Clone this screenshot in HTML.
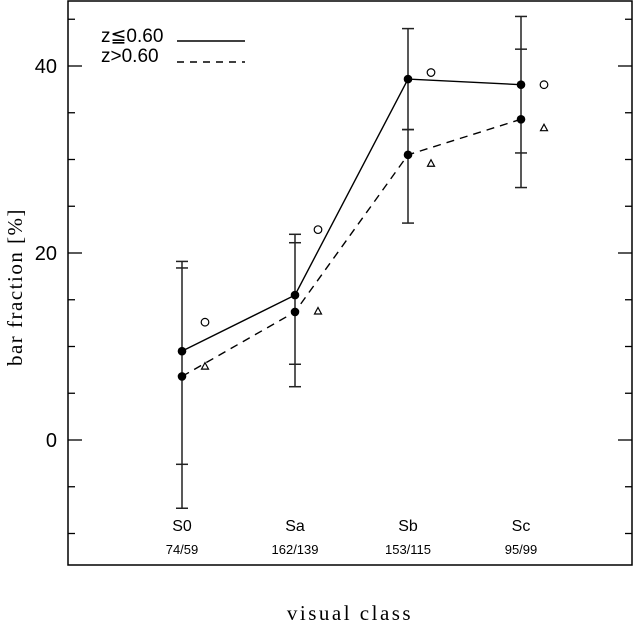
<!DOCTYPE html>
<html><head><meta charset="utf-8"><style>
html,body{margin:0;padding:0;background:#fff}
svg{display:block;font-family:"Liberation Serif","DejaVu Serif",serif}
</style></head><body>
<svg id="c" width="634" height="623" viewBox="0 0 634 623"></svg>
<script>
const classes=["S0","Sa","Sb","Sc"];
const counts=["74/59","162/139","153/115","95/99"];
const lowZ=[9.5,15.5,38.6,38.0];
const highZ=[6.8,13.7,30.5,34.3];
const errA_hi=[19.1,22.0,44.0,45.3];
const errA_lo=[-7.3,5.7,23.2,30.7];
const errB_hi=[18.4,21.1,33.2,41.8];
const errB_lo=[-2.6,8.1,33.2,27.0];
const circles=[12.6,22.5,39.3,38.0];
const triangles=[7.9,13.8,29.6,33.4];
const yTicks=[0,20,40];
const svg=document.getElementById('c');
const NS="http://www.w3.org/2000/svg";
const L=68,R=632,T=1,B=565;
const Y=v=>440-v*9.35;
const X=i=>182+i*113;
function mk(tag,a,p){const e=document.createElementNS(NS,tag);for(const k in a)e.setAttribute(k,a[k]);(p||svg).appendChild(e);return e;}
const frame=mk('rect',{x:L,y:T,width:R-L,height:B-T,fill:'none',stroke:'#000','stroke-width':1.5});


for(let v=-10;v<=45;v+=5){const y=Y(v);const len=v%20===0?14:7;
 const t1=mk('line',{x1:L,x2:L+len,y1:y,y2:y,stroke:'#000','stroke-width':1.3});
 
 
 const t2=mk('line',{x1:R-len,x2:R,y1:y,y2:y,stroke:'#000','stroke-width':1.3});
 
 }
yTicks.forEach(v=>{const t=mk('text',{x:57,y:Y(v)+7,'text-anchor':'end','font-size':20,'font-family':'Liberation Sans, sans-serif'});t.textContent=v;
 
 });
const yt=mk('text',{x:22,y:287,'text-anchor':'middle','font-size':21,'letter-spacing':1.5,transform:'rotate(-90 22 287)'});yt.textContent='bar fraction [%]';


const xt=mk('text',{x:350,y:620,'text-anchor':'middle','font-size':21,'letter-spacing':2.5});xt.textContent='visual class';


classes.forEach((c,i)=>{const t=mk('text',{x:X(i),y:531,'text-anchor':'middle','font-size':16,'font-family':'Liberation Sans, sans-serif'});t.textContent=c;
 
 
 const n=mk('text',{x:X(i),y:554,'text-anchor':'middle','font-size':13,'font-family':'Liberation Sans, sans-serif'});n.textContent=counts[i];
 
 });
classes.forEach((c,i)=>{const x=X(i);
 const l=mk('line',{x1:x,x2:x,y1:Y(Math.max(errA_hi[i],errB_hi[i])),y2:Y(Math.min(errA_lo[i],errB_lo[i])),stroke:'#222','stroke-width':1.5});
 
 
 [errA_hi[i],errA_lo[i],errB_hi[i],errB_lo[i]].forEach(v=>{const cp=mk('line',{x1:x-6,x2:x+6,y1:Y(v),y2:Y(v),stroke:'#222','stroke-width':1.5});
  
  });});
function line(arr,dash,name){const p=mk('polyline',{points:arr.map((v,i)=>X(i)+','+Y(v)).join(' '),fill:'none',stroke:'#000','stroke-width':1.4,'stroke-dasharray':dash||'none'});
 
 
 arr.forEach((v,i)=>{const d=mk('circle',{cx:X(i),cy:Y(v),r:4.3,fill:'#000'});
  
  });}
line(lowZ,null,'low-z-line');
line(highZ,'8 6','high-z-line');
circles.forEach((v,i)=>{const c=mk('circle',{cx:X(i)+23,cy:Y(v),r:3.8,fill:'none',stroke:'#000','stroke-width':1.2});
 
 });
triangles.forEach((v,i)=>{const x=X(i)+23,y=Y(v);const t=mk('polygon',{points:`${x-3.5},${y+3} ${x+3.5},${y+3} ${x},${y-3.5}`,fill:'none',stroke:'#000','stroke-width':1.2});
 
 });
const g=mk('g',{});


const t1=mk('text',{x:101,y:42,'font-size':19,'font-family':'Liberation Sans, DejaVu Sans, sans-serif'},g);t1.textContent='z≦0.60';


mk('line',{x1:177,x2:245,y1:41,y2:41,stroke:'#000','stroke-width':1.4},g);
const t2=mk('text',{x:101,y:62,'font-size':19,'font-family':'Liberation Sans, sans-serif'},g);t2.textContent='z>0.60';


mk('line',{x1:177,x2:245,y1:62,y2:62,stroke:'#000','stroke-width':1.4,'stroke-dasharray':'7 6'},g);
</script>
</body></html>
